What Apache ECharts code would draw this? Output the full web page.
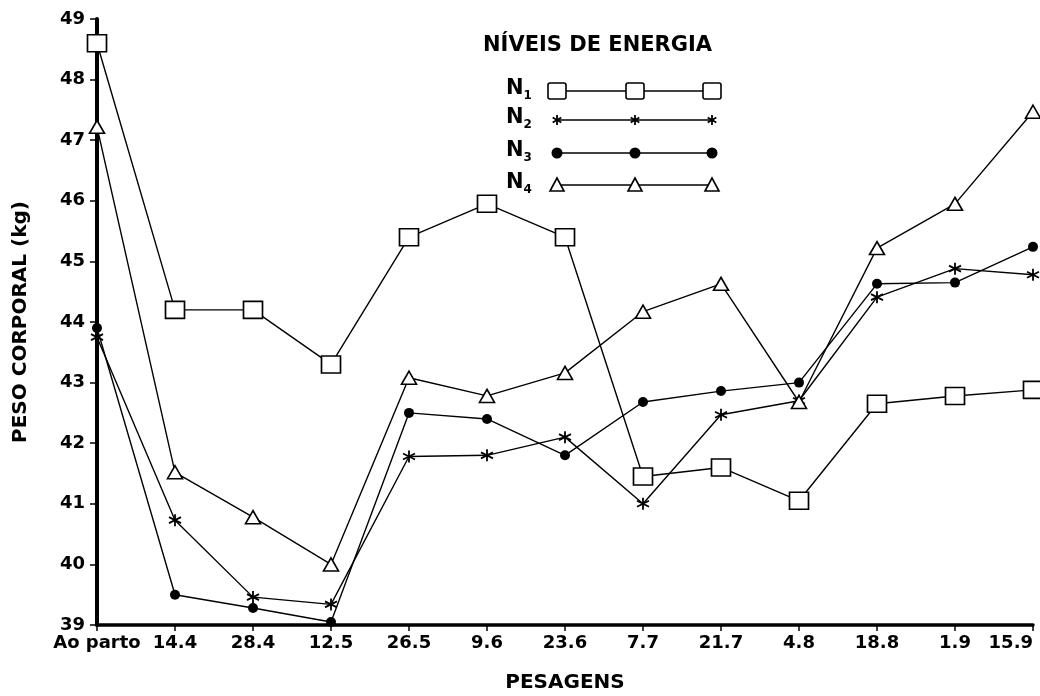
<!DOCTYPE html>
<html>
<head>
<meta charset="utf-8">
<script src="https://cdn.jsdelivr.net/npm/echarts@6/dist/echarts.min.js"></script>
<style>html,body{margin:0;padding:0;background:#fff}#c{width:1040px;height:696px}</style>
</head>
<body>
<div id="c"></div>
<script>
const categories = ['Ao parto','14.4','28.4','12.5','26.5','9.6','23.6','7.7','21.7','4.8','18.8','1.9','15.9'];
const yTicks = [39,40,41,42,43,44,45,46,47,48,49];
const n1 = [48.6, 44.2, 44.2, 43.3, 45.4, 45.95, 45.4, 41.45, 41.6, 41.05, 42.65, 42.78, 42.88];
const n2 = [43.75, 40.73, 39.46, 39.34, 41.78, 41.8, 42.1, 41.0, 42.47, 42.7, 44.41, 44.88, 44.78];
const n3 = [43.9, 39.5, 39.28, 39.05, 42.5, 42.4, 41.8, 42.68, 42.86, 43.0, 44.63, 44.65, 45.24];
const n4 = [47.22, 41.52, 40.78, 40.0, 43.08, 42.78, 43.16, 44.17, 44.63, 42.68, 45.22, 45.95, 47.47];
const seriesNames = ['N1','N2','N3','N4'];
const legendTitle = 'NÍVEIS DE ENERGIA';

const FONT = '"DejaVu Sans", "Liberation Sans", Arial, sans-serif';
const STAR = 'path://M0,-10L0,10M-8.66,-5L8.66,5M-8.66,5L8.66,-5';

const markerDefs = [
  {symbol:'rect', size:[19,17], style:{color:'#fff', borderColor:'#000', borderWidth:1.6}},
  {symbol:STAR, size:12, style:{color:'none', borderColor:'#000', borderWidth:1.8}},
  {symbol:'circle', size:10, style:{color:'#000', borderColor:'#000', borderWidth:0}},
  {symbol:'triangle', size:[15,13], style:{color:'#fff', borderColor:'#000', borderWidth:1.6}}
];
const dataSets = [n1,n2,n3,n4];

const chart = echarts.init(document.getElementById('c'));

const series = dataSets.map((d,i)=>({
  name: seriesNames[i],
  type:'line',
  data:d,
  symbol: markerDefs[i].symbol,
  symbolSize: markerDefs[i].size,
  showAllSymbol:true,
  lineStyle:{color:'#000', width:1.4},
  itemStyle: markerDefs[i].style,
  z: 3 + i,
  animation:false
}));

// legend drawn with graphic elements
const legendG = [];
legendG.push({type:'text', x:483, y:35, style:{text:legendTitle, fontFamily:FONT, fontWeight:'bold', fontSize:21, fill:'#000'}});
const rowY = [91,120,153,185];
const xs = [557,635,712];
rowY.forEach((y,i)=>{
  legendG.push({type:'text', x:506, y:y-15, style:{
    text:'{n|N}{s|'+(i+1)+'}', fill:'#000',
    rich:{n:{fontFamily:FONT, fontWeight:'bold', fontSize:21, fill:'#000'}, s:{fontFamily:FONT, fontWeight:'bold', fontSize:12, fill:'#000', padding:[14,0,0,0]}}
  }});
  legendG.push({type:'line', shape:{x1:xs[0], y1:y, x2:xs[2], y2:y}, style:{stroke:'#000', lineWidth:1.3}, z:10});
  xs.forEach(x=>{
    if(i===0){
      legendG.push({type:'rect', z:11, shape:{x:x-9, y:y-8, width:18, height:16, r:2}, style:{fill:'#fff', stroke:'#000', lineWidth:1.6}});
    } else if(i===1){
      [[0,-5,0,5],[-4.3,-2.5,4.3,2.5],[-4.3,2.5,4.3,-2.5]].forEach(s=>{
        legendG.push({type:'line', z:11, shape:{x1:x+s[0], y1:y+s[1], x2:x+s[2], y2:y+s[3]}, style:{stroke:'#000', lineWidth:1.8}});
      });
    } else if(i===2){
      legendG.push({type:'circle', z:11, shape:{cx:x, cy:y, r:5.5}, style:{fill:'#000'}});
    } else {
      legendG.push({type:'polygon', z:11, shape:{points:[[x,y-7],[x-7,y+6],[x+7,y+6]]}, style:{fill:'#fff', stroke:'#000', lineWidth:1.6}});
    }
  });
});

chart.setOption({
  animation:false,
  backgroundColor:'#fff',
  grid:{left:97, right:7, top:19, bottom:71, containLabel:false, outerBoundsMode:'none'},
  xAxis:{
    type:'category',
    data:categories,
    boundaryGap:false,
    name:'PESAGENS',
    nameLocation:'middle',
    nameGap:48,
    nameTextStyle:{fontFamily:FONT, fontWeight:'bold', fontSize:20, color:'#000'},
    axisLine:{lineStyle:{color:'#000', width:3.5}},
    axisTick:{show:true, alignWithLabel:true, length:6, lineStyle:{color:'#000', width:1.5}},
    axisLabel:{color:'#000', fontFamily:FONT, fontWeight:'bold', fontSize:18, margin:9, interval:0, alignMaxLabel:'right'},
    splitLine:{show:false}
  },
  yAxis:{
    type:'value',
    min:yTicks[0], max:yTicks[yTicks.length-1], interval:1,
    name:'PESO CORPORAL (kg)',
    nameLocation:'middle',
    nameGap:66,
    nameTextStyle:{fontFamily:FONT, fontWeight:'bold', fontSize:20, color:'#000'},
    axisLine:{show:true, lineStyle:{color:'#000', width:4}},
    axisTick:{show:true, length:7, lineStyle:{color:'#000', width:1.5}},
    axisLabel:{color:'#000', fontFamily:FONT, fontWeight:'bold', fontSize:18, margin:12},
    splitLine:{show:false}
  },
  series: series,
  graphic: legendG
});
</script>
</body>
</html>
